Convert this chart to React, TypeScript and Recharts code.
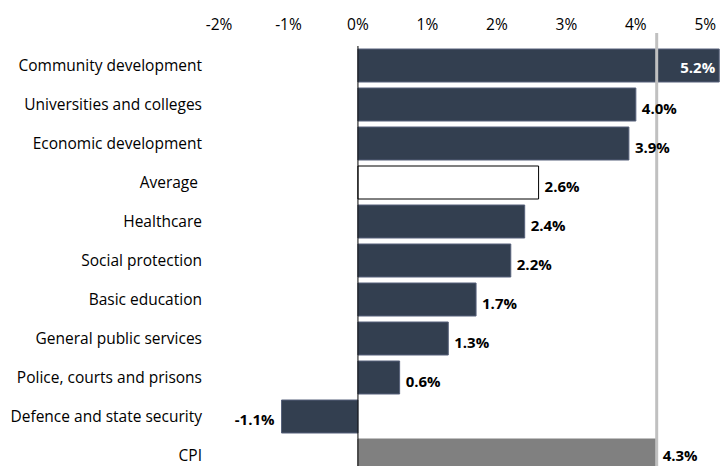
import { BarChart, Bar, XAxis, YAxis, Cell, LabelList, ReferenceLine } from 'recharts'

const categories = [
  'Community development',
  'Universities and colleges',
  'Economic development',
  'Average\u00a0',
  'Healthcare',
  'Social protection',
  'Basic education',
  'General public services',
  'Police, courts and prisons',
  'Defence and state security',
  'CPI',
]
const growth = [5.2, 4.0, 3.9, 2.6, 2.4, 2.2, 1.7, 1.3, 0.6, -1.1, 4.3]
const cpiRate = 4.3
const xTicks = [-2, -1, 0, 1, 2, 3, 4, 5]

const FONT = '"Open Sans", sans-serif'
const NAVY = '#333f50'

const data = categories.map((name, i) => ({ name, value: growth[i] }))

function barFill(name: string) {
  if (name.startsWith('Average')) return '#ffffff'
  if (name === 'CPI') return '#808080'
  return NAVY
}

function barStroke(name: string) {
  if (name.startsWith('Average')) return '#000000'
  if (name === 'CPI') return '#808080'
  return '#56617a'
}

function ValueLabel(props: any) {
  const box = props.viewBox ?? props
  const { x, y, width, height } = box
  const value = Number(props.value)
  const left = Math.min(x, x + width)
  const right = Math.max(x, x + width)
  const cy = y + height / 2
  const text = `${value.toFixed(1)}%`
  const common = { fontFamily: FONT, fontSize: 15, fontWeight: 700, dominantBaseline: 'central' as const }
  if (props.index === 0) {
    return (
      <text x={right - 4} y={cy} dy={1} textAnchor="end" fill="#ffffff" {...common}>
        {text}
      </text>
    )
  }
  if (value < 0) {
    return (
      <text x={left - 7} y={cy} dy={2} textAnchor="end" fill="#000" {...common}>
        {text}
      </text>
    )
  }
  // the last row (CPI) is cut by the bottom edge, so its label sits a bit higher
  const dy = props.index === categories.length - 1 ? -1 : 3
  return (
    <text x={right + 6} y={cy} dy={dy} textAnchor="start" fill="#000" {...common}>
      {text}
    </text>
  )
}

export default function App() {
  return (
    <div style={{ position: 'absolute', left: 0, top: 0, width: 722, height: 466, overflow: 'hidden', background: '#fff' }}>
      <BarChart
        width={722}
        height={475}
        data={data}
        layout="vertical"
        margin={{ top: 16, right: 0, bottom: 0, left: 0 }}
        barSize={33}
      >
        <XAxis
          type="number"
          orientation="top"
          domain={[-2, 5.24]}
          ticks={xTicks}
          tickFormatter={(v) => `${v}%`}
          axisLine={false}
          tickLine={false}
          tickSize={0}
          tickMargin={16}
          height={30}
          tick={{ fontFamily: FONT, fontSize: 15.5, fill: '#000' }}
        />
        <YAxis
          type="category"
          dataKey="name"
          width={219}
          axisLine={false}
          tickLine={false}
          tickSize={0}
          tickMargin={17}
          interval={0}
          tick={{ fontFamily: FONT, fontSize: 15.5, fill: '#000' }}
        />
        <Bar dataKey="value" isAnimationActive={false}>
          {data.map((d) => (
            <Cell key={d.name} fill={barFill(d.name)} stroke={barStroke(d.name)} strokeWidth={1} />
          ))}
          <LabelList dataKey="value" content={ValueLabel} />
        </Bar>
        <ReferenceLine x={0} stroke="#000" strokeWidth={1} />
        <ReferenceLine
          x={cpiRate}
          shape={(p: any) => (
            <line x1={p.x1} x2={p.x2} y1={p.y1 - 13} y2={p.y2} stroke="#c0c0c0" strokeWidth={3} />
          )}
        />
      </BarChart>
    </div>
  )
}
